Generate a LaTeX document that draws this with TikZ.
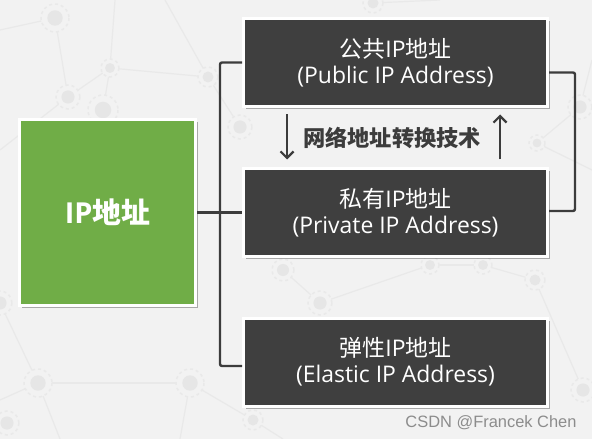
\documentclass[tikz,border=0pt]{standalone}
\usepackage{fontspec}
\setmainfont{Open Sans}
\newfontfamily\cjk{Noto Sans CJK SC}
\newfontfamily\wmfont{Liberation Sans}
\usetikzlibrary{arrows.meta,shadows,calc}
\definecolor{bg}{HTML}{F2F2F2}
\definecolor{boxdark}{HTML}{3F3F3F}
\definecolor{grn}{HTML}{70AD47}
\definecolor{conncol}{HTML}{3C3C3C}
\definecolor{patline}{HTML}{E9E9E9}
\definecolor{patdot}{HTML}{E6E6E6}
\begin{document}
\begin{tikzpicture}[x=1bp,y=-1bp,
  darkbox/.style={rectangle, draw=white, line width=3bp, fill=boxdark, text=white,
    minimum width=304bp, minimum height=88bp, inner sep=0pt, align=center,
    font=\fontsize{23}{26}\selectfont,
    drop shadow={shadow xshift=2.5bp, shadow yshift=-2.5bp, fill=black, opacity=.3}},
  greenbox/.style={rectangle, draw=white, line width=3bp, fill=grn, text=white,
    minimum width=176bp, minimum height=186bp, inner sep=0pt,
    font=\bfseries\fontsize{29}{32}\selectfont,
    drop shadow={shadow xshift=2.5bp, shadow yshift=-2.5bp, fill=black, opacity=.3}},
  conn/.style={draw=conncol, line width=2.4bp},
  arr/.style={draw=conncol, line width=2.2bp, -{Straight Barb[length=6.5bp,width=13bp]}},
  natlabel/.style={text=conncol, font=\cjk\bfseries\fontsize{22.3}{26}\selectfont, inner sep=0pt},
  wmark/.style={text=black!45, font=\wmfont\fontsize{16.5}{20}\selectfont, inner sep=0pt},
  patl/.style={draw=patline, line width=1.2bp},
]
\fill[bg] (0,0) rectangle (592,439);
\useasboundingbox (0,0) rectangle (592,439);

% faint background network pattern
\foreach \a/\b/\c/\d in {0/30/55/18, 55/18/68/97, 68/97/110/68, 110/68/208/77, 110/68/103/110,
  110/68/115/0, 208/77/240/127, 208/77/165/0, 68/97/0/150, 38/383/190/383, 190/383/253/420,
  38/383/0/400, 38/383/60/439, 190/383/180/439, 283/270/320/303, 320/303/430/265,
  430/265/483/265, 483/265/535/280, 535/280/583/390, 373/3/440/0, 580/107/537/143,
  580/107/592/60, 0/303/38/383, 253/420/283/439, 537/143/592/170}
  \draw[patl] (\a,\b) -- (\c,\d);
\foreach \x/\y/\r in {55/18/14, 110/68/9, 68/97/12, 103/110/15, 208/77/10, 240/127/12,
  38/383/14, 190/383/14, 253/420/10, 283/270/11, 320/303/12, 535/280/10, 483/265/9,
  430/265/9, 583/390/12, 373/3/10, 580/107/12, 537/143/8, 0/303/12, 7/423/12}
  {\fill[bg] (\x,\y) circle[radius=\r];
   \draw[patline, line width=1.5bp, dashed] (\x,\y) circle[radius=\r];
   \fill[patdot] (\x,\y) circle[radius=0.55*\r];}

% nodes
\node[greenbox] (ip) at (107.5,212.5) {IP{\cjk 地址}};
\node[darkbox] (pub) at (395.5,62.5) {{\cjk 公共}IP{\cjk 地址}\\(Public IP Address)};
\node[darkbox] (pri) at (395.5,212.5) {{\cjk 私有}IP{\cjk 地址}\\(Private IP Address)};
\node[darkbox] (ela) at (395.5,362) {{\cjk 弹性}IP{\cjk 地址}\\(Elastic IP Address)};

% connectors
\coordinate (lb) at (220,212.5);
\coordinate (rb) at (575,140);
\draw[conn] (ip.east) -- (pri.west);
\draw[conn, rounded corners=2bp] (pub.west) -| (lb) |- ([yshift=-4bp]ela.west);
\draw[conn, rounded corners=2bp] ([yshift=-10bp]pub.east) -| (rb) |- ([yshift=1.5bp]pri.east);

\draw[arr, shorten <=6.5bp, shorten >=7.5bp] ([xshift=-108.5bp]pub.south) -- ([xshift=-108.5bp]pri.north);
\draw[arr, shorten <=7.5bp, shorten >=6.5bp] ([xshift=104.5bp]pri.north) -- ([xshift=104.5bp]pub.south);

\node[natlabel] (nat) at (392,138) {网络地址转换技术};
\node[wmark] (wm) at (491,423) {CSDN @Francek Chen};
\end{tikzpicture}
\end{document}
